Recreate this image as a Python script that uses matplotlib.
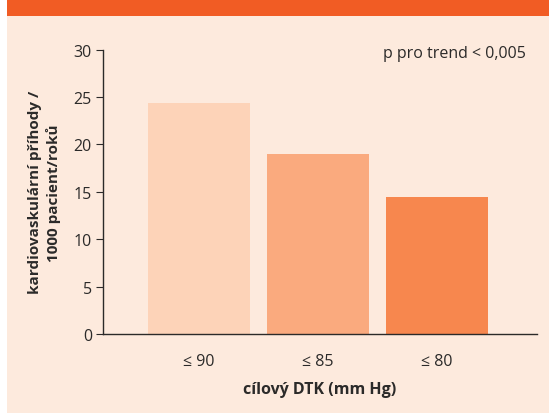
import matplotlib
matplotlib.use("Agg")
import matplotlib.pyplot as plt
from matplotlib.patches import Rectangle

categories = ["≤ 90", "≤ 85", "≤ 80"]
values = [24.4, 19.0, 14.5]
bar_colors = ["#FDD3B8", "#FAAA7E", "#F7874E"]
yticks = [0, 5, 10, 15, 20, 25, 30]

FAM = ["Open Sans", "DejaVu Sans"]
plt.rcParams["font.family"] = FAM
TXT = "#2B2A29"
BG = "#FDEADD"

fig = plt.figure(figsize=(5.49, 4.14), dpi=100)
fig.patch.set_facecolor("white")
# beige panel and orange banner
fig.patches.append(Rectangle((7/549, 0), 1 - 7/549, 1 - 16.7/414, transform=fig.transFigure,
                             facecolor=BG, edgecolor="none", zorder=-10))
fig.patches.append(Rectangle((7/549, 1 - 16.7/414), 1 - 7/549, 16.7/414, transform=fig.transFigure,
                             facecolor="#F15C24", edgecolor="none", zorder=-10))

ax = fig.add_axes([103/549, 1 - 335/414, (537 - 103)/549, (335 - 50.7)/414])
ax.set_zorder(5)
ax.set_facecolor("none")
x = list(range(len(categories)))
ax.bar(x, values, width=0.857, color=bar_colors, edgecolor="none", zorder=2)
ax.set_xlim(-0.807, 2.84)
ax.set_ylim(0, 30)
ax.set_yticks(yticks)
ax.set_xticks(x)
ax.set_xticklabels(categories)
for s in ["top", "right"]:
    ax.spines[s].set_visible(False)
for s in ["left", "bottom"]:
    ax.spines[s].set_color(TXT)
    ax.spines[s].set_linewidth(1.0)
ax.tick_params(axis="y", length=5, width=0.8, color=TXT, pad=3, labelsize=11.5, labelcolor=TXT)
ax.tick_params(axis="x", length=0, pad=14, labelsize=11.5, labelcolor=TXT)
ax.set_xlabel("cílový DTK (mm Hg)", fontsize=11.5, fontweight="bold", color=TXT, labelpad=8)
ax.set_ylabel("kardiovaskulární příhody /\n1000 pacient/roků", fontsize=11, fontweight="bold",
              color=TXT, labelpad=9, linespacing=1.35)
ax.text(0.975, 0.99, "p pro trend < 0,005", transform=ax.transAxes, ha="right", va="center",
        fontsize=11.5, color=TXT)

fig.savefig("out.png", dpi=100)
